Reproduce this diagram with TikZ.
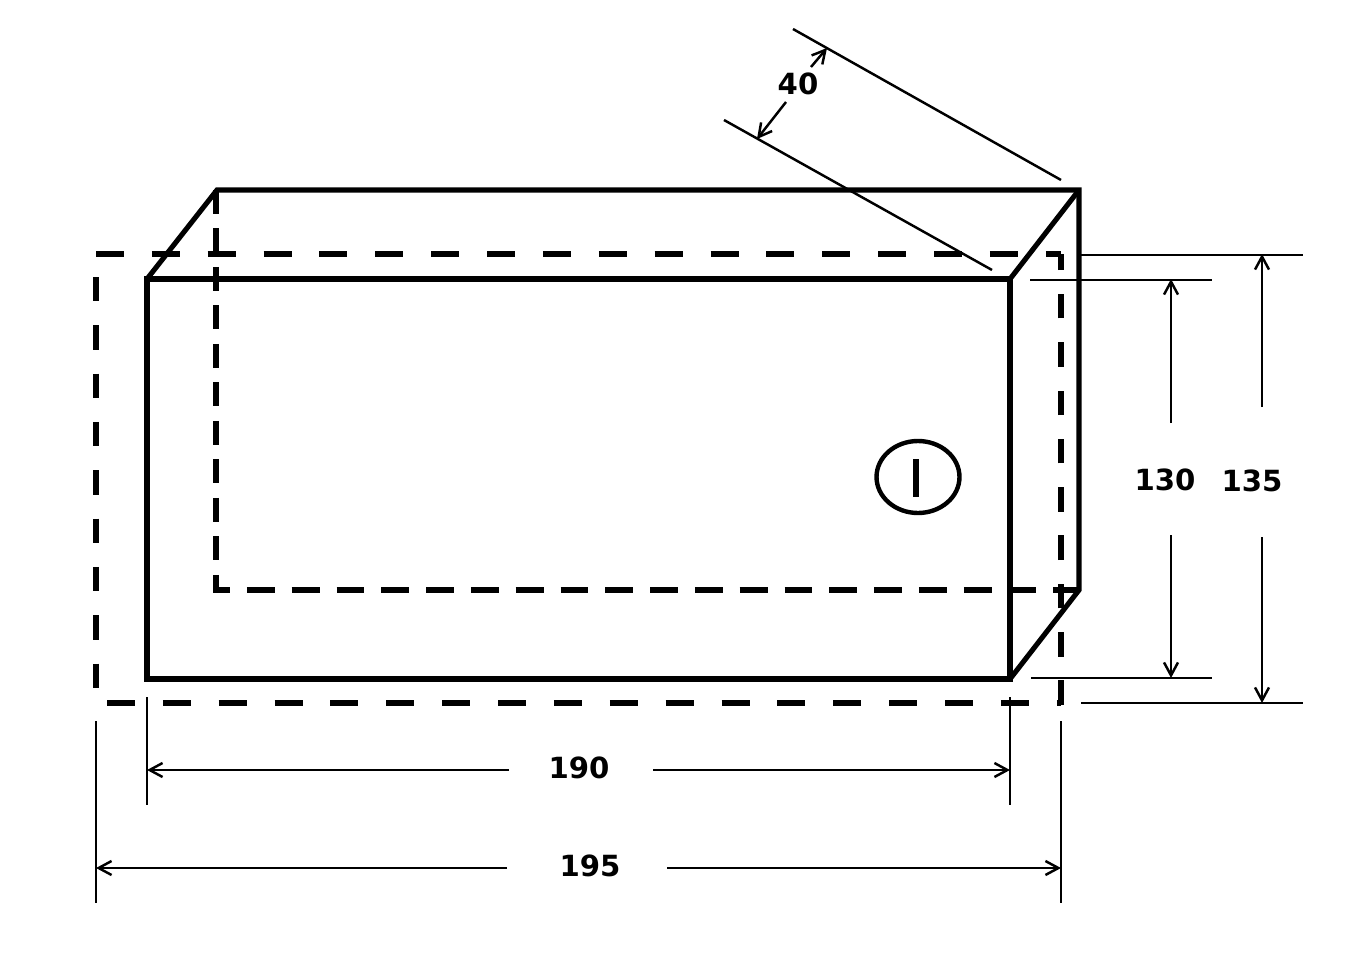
\documentclass[tikz,border=0pt]{standalone}
\usepackage{fontspec}
\setmainfont{DejaVu Sans}
\usetikzlibrary{calc,shapes.geometric,positioning}
\usetikzlibrary{arrows.meta}
\tikzset{>={Straight Barb[width=2.8mm,length=2.6mm]}}

\begin{document}
\begin{tikzpicture}[x=0.02cm,y=-0.02cm]
  \tikzstyle{heavy} = [line width=2.9pt, draw=black]
  \tikzstyle{hidden} = [line width=2.9pt, draw=black]
  \tikzstyle{thin line} = [line width=1.4pt, draw=black]
  \tikzstyle{dim} = [font=\fontsize{16.6}{18}\selectfont\bfseries, inner sep=0pt]

  \useasboundingbox (0,0) rectangle (1358,956);

  % box corners
  \coordinate (fa) at (147,279);
  \coordinate (fb) at (1010,279);
  \coordinate (fc) at (1010,679);
  \coordinate (fd) at (147,679);
  \coordinate (ba) at (217,190);
  \coordinate (bb) at (1079,190);
  \coordinate (bc) at (1079,590);

  % outer dashes
  \draw[hidden, dash pattern=on 15.9pt off 15.9pt] (96,254) -- (1061,254);
  \draw[hidden, dash pattern=on 15.9pt off 15.9pt] (107,703) -- (1061,703);
  \draw[hidden, dash pattern=on 13.9pt off 13.6pt] (96,277) -- (96,690);
  \draw[hidden, dash pattern=on 14pt off 13.5pt] (1061,705) -- (1061,254);
  % hidden edges of the box
  \draw[hidden, dash pattern=on 13.6pt off 8.3pt] (216,190) -- (216,590);
  \draw[hidden, dash pattern=on 15.9pt off 9.6pt, dash phase=6.2pt] (213,590) -- (bc);

  % box
  \draw[heavy, line join=miter] (fa) -- (fb) -- (fc) -- (fd) -- cycle;
  \draw[heavy, line join=miter] (fa) -- (ba) -- (bb) -- (bc) -- (fc);
  \draw[heavy, line join=miter] (fb) -- (bb);

  % lock
  \node[draw=black, line width=2.5pt, ellipse, inner sep=0pt,
        minimum width=1.66cm, minimum height=1.44cm] (lock) at (918,477) {};
  \coordinate (locka) at (916,459);
  \coordinate (lockb) at (916,497);
  \draw[line width=2.9pt] (locka) -- (lockb);

  % labels
  \node[dim] (d40) at (798,84) {40};
  \node[dim] (d130) at (1165,480) {130};
  \node[dim] (d135) at (1252,481) {135};
  \node[dim] (d190) at (579,768) {190};
  \node[dim] (d195) at (590,866) {195};

  % witness lines
  \coordinate (w40a) at (793,29);
  \coordinate (w40b) at (1061,180);
  \coordinate (w40c) at (724,120);
  \coordinate (w40d) at (992,270);
  \coordinate (w130a) at (1030,280);
  \coordinate (w130b) at (1212,280);
  \coordinate (w130c) at (1031,678);
  \coordinate (w130d) at (1212,678);
  \coordinate (w135a) at (1078,255);
  \coordinate (w135b) at (1303,255);
  \coordinate (w135c) at (1081,703);
  \coordinate (w135d) at (1303,703);
  \coordinate (w190a) at (147,697);
  \coordinate (w190b) at (147,805);
  \coordinate (w190c) at (1010,697);
  \coordinate (w190d) at (1010,805);
  \coordinate (w195a) at (96,721);
  \coordinate (w195b) at (96,903);
  \coordinate (w195c) at (1061,721);
  \coordinate (w195d) at (1061,903);

  \path[every edge/.append style={thin line}]
  (w40a) edge (w40b)
  (w40c) edge (w40d)
  (w130a) edge (w130b)
  (w130c) edge (w130d)
  (w135a) edge (w135b)
  (w135c) edge (w135d)
  (w190a) edge (w190b)
  (w190c) edge (w190d)
  (w195a) edge (w195b)
  (w195c) edge (w195d)
  ;

  % dimension arrows
  \coordinate (a40a) at (786,102);
  \coordinate (a40b) at (757,139);
  \coordinate (a40c) at (811,67);
  \coordinate (a40d) at (827,48);
  \coordinate (a130a) at (1171,423);
  \coordinate (a130b) at (1171,279);
  \coordinate (a130c) at (1171,535);
  \coordinate (a130d) at (1171,678);
  \coordinate (a135a) at (1262,407);
  \coordinate (a135b) at (1262,254);
  \coordinate (a135c) at (1262,537);
  \coordinate (a135d) at (1262,703);
  \coordinate (a190a) at (509,770);
  \coordinate (a190b) at (147,770);
  \coordinate (a190c) at (653,770);
  \coordinate (a190d) at (1010,770);
  \coordinate (a195a) at (507,868);
  \coordinate (a195b) at (96,868);
  \coordinate (a195c) at (667,868);
  \coordinate (a195d) at (1061,868);

  \path[every edge/.append style={thin line, ->}]
  (a40a) edge (a40b)
  (a40c) edge (a40d)
  (a130a) edge (a130b)
  (a130c) edge (a130d)
  (a135a) edge (a135b)
  (a135c) edge (a135d)
  (a190a) edge (a190b)
  (a190c) edge (a190d)
  (a195a) edge (a195b)
  (a195c) edge (a195d)
  ;
\end{tikzpicture}
\end{document}
